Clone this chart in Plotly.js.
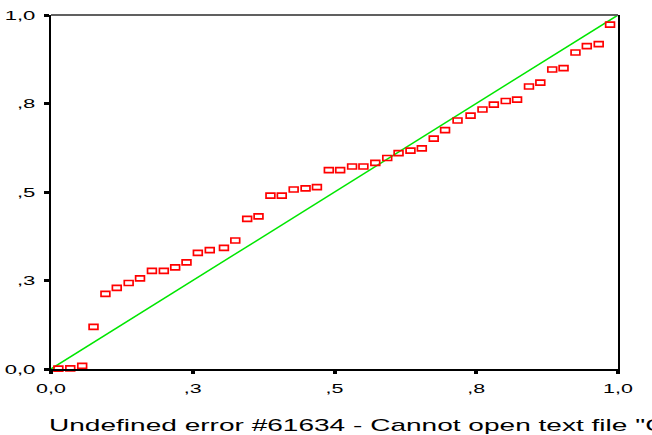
<!DOCTYPE html>
<html>
<head>
<meta charset="utf-8">
<script src="https://cdn.plot.ly/plotly-3.0.1.min.js"></script>
<style>
html,body{margin:0;padding:0;background:#fff;}
#chart{width:652px;height:435px;}
</style>
</head>
<body>
<div id="chart"></div>
<script>
// Observed cumulative probability (x) and expected cumulative probability (y)
const obsCumProb = [0.013,0.034,0.055,0.075,0.096,0.116,0.137,0.157,0.178,0.199,
  0.219,0.239,0.259,0.280,0.305,0.325,0.346,0.366,0.387,0.407,
  0.428,0.449,0.469,0.490,0.510,0.531,0.551,0.572,0.593,0.613,
  0.634,0.654,0.675,0.695,0.717,0.740,0.761,0.781,0.802,0.822,
  0.843,0.863,0.884,0.904,0.925,0.945,0.966,0.986];
const expCumProb = [0.001,0.002,0.009,0.119,0.212,0.229,0.243,0.256,0.277,0.277,
  0.287,0.301,0.328,0.336,0.342,0.363,0.424,0.431,0.490,0.490,
  0.507,0.510,0.514,0.562,0.562,0.572,0.572,0.582,0.596,0.610,
  0.617,0.623,0.651,0.675,0.702,0.716,0.733,0.747,0.757,0.761,
  0.798,0.809,0.846,0.850,0.894,0.912,0.918,0.973];
// Reference diagonal
const refX = [0, 1];
const refY = [0, 1];
// Tick labels
const tickVals = [0, 0.25, 0.5, 0.75, 1];
const tickText = ["0,0", ",3", ",5", ",8", "1,0"];
const titleText = 'Undefined error #61634 - Cannot open text file "C';

const font = 'Liberation Sans, Arial, sans-serif';

const traces = [
  {x: refX, y: refY, mode: 'lines', type: 'scatter',
   line: {color: '#00e600', width: 1.5}, hoverinfo: 'skip', cliponaxis: false},
  {x: obsCumProb, y: expCumProb, mode: 'markers', type: 'scatter',
   marker: {symbol: 'square-open', size: 7, color: '#ff0000', line: {color: '#ff0000', width: 1.7}},
   cliponaxis: false}
];

const layout = {
  width: 652, height: 435,
  margin: {l: 51, r: 34, t: 15, b: 66},
  paper_bgcolor: '#fff', plot_bgcolor: '#fff',
  showlegend: false,
  title: {text: titleText, font: {family: font, size: 17, color: '#000'},
          xref: 'container', yref: 'container', x: 49/652, xanchor: 'left',
          y: 1 - 425/435, yanchor: 'middle'},
  xaxis: {range: [0, 1], showline: true, linecolor: '#000', linewidth: 2, mirror: false,
          showgrid: false, zeroline: false, ticks: 'outside', ticklen: 3, tickwidth: 4,
          tickcolor: '#000', tickvals: tickVals, ticktext: tickText,
          tickfont: {family: font, size: 13, color: '#000'}, ticklabelstandoff: 3, fixedrange: true},
  yaxis: {range: [0, 1], showline: true, linecolor: '#000', linewidth: 2, mirror: true,
          showgrid: false, zeroline: false, ticks: 'outside', ticklen: 5, tickwidth: 3,
          tickcolor: '#000', tickvals: tickVals, ticktext: tickText,
          tickfont: {family: font, size: 13, color: '#000'}, ticklabelstandoff: 6, fixedrange: true},
  shapes: [{type: 'line', xref: 'paper', yref: 'paper', x0: 0, x1: 1, y0: 1, y1: 1,
            line: {color: '#606060', width: 2}}]
};

function stretch(sel, s) {
  document.querySelectorAll(sel).forEach(t => {
    const x = parseFloat(t.getAttribute('x')) || 0;
    const y = parseFloat(t.getAttribute('y')) || 0;
    const tr = t.getAttribute('transform') || '';
    t.setAttribute('transform', tr + ' translate(' + x + ',' + y + ') scale(' + s + ',1) translate(' + (-x) + ',' + (-y) + ')');
  });
}

Plotly.newPlot('chart', traces, layout, {staticPlot: true, displayModeBar: false}).then(() => {
  stretch('.xtick text', 1.65);
  stretch('.ytick text', 1.7);
  stretch('.gtitle', 1.65);
  document.querySelectorAll('.scatterlayer .trace path.point').forEach(p => {
    p.setAttribute('d', 'M-4.4,-2.5H4.4V2.5H-4.4Z');
    p.style.strokeWidth = '1.7px';
  });
});
</script>
</body>
</html>
